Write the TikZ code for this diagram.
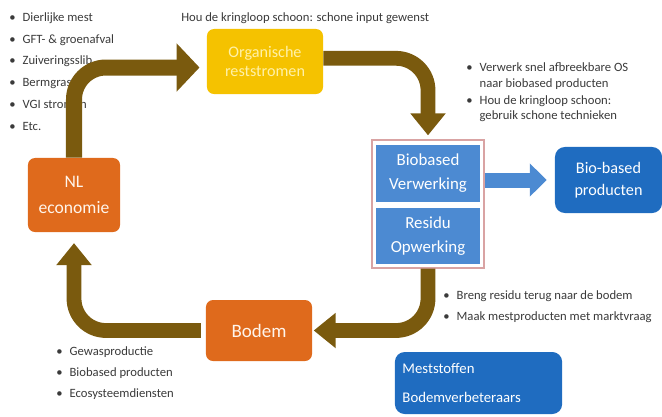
\documentclass[tikz,border=0pt]{standalone}
\usepackage{fontspec}
\setmainfont{Carlito}
\usepackage{xcolor}
\usetikzlibrary{positioning,arrows.meta}

\definecolor{loopbrown}{HTML}{7A5A0E}
\definecolor{orgyellow}{HTML}{F5C200}
\definecolor{orgtext}{HTML}{FFF1A8}
\definecolor{econorange}{HTML}{DF6A1C}
\definecolor{procblue}{HTML}{4C8AD2}
\definecolor{prodblue}{HTML}{1F6CC0}
\definecolor{framepink}{HTML}{D9A3A3}
\definecolor{notegray}{HTML}{3A3A3A}

\begin{document}
\begin{tikzpicture}[x=0.025cm, y=-0.025cm,
      box/.style={rounded corners=5pt, align=center, text=white, inner sep=2pt},
      yellowbox/.style={box, fill=orgyellow, text=orgtext, minimum width=2.9cm, minimum height=1.625cm, font=\fontsize{11.5}{14}\selectfont},
      orangebox/.style={box, fill=econorange, text=white!92!orange, font=\fontsize{12.5}{19}\selectfont},
      procbox/.style={fill=procblue, align=center, text=white, minimum width=2.6cm, minimum height=1.41cm, font=\fontsize{12}{17}\selectfont},
      prodbox/.style={box, fill=prodblue, rounded corners=7pt, font=\fontsize{11.5}{15.5}\selectfont},
      frame/.style={draw=framepink, line width=0.9pt, fill=white, minimum width=2.8cm, minimum height=3.2cm},
      note/.style={align=left, text=notegray, inner sep=0pt, anchor=north west},
      flow/.style={draw=loopbrown, line width=0.37cm, rounded corners=0.8cm, -{Triangle[width=0.85cm,length=0.55cm]}},
      bigflow/.style={flow, line width=0.4cm, -{Triangle[width=1.17cm,length=0.57cm]}},
      blueflow/.style={draw=procblue, line width=0.375cm, -{Triangle[width=0.8cm,length=0.42cm]}}
    ]
    \useasboundingbox (0,0) rectangle (662,416);

    % boxes of the loop
    \node[yellowbox] (org) at (265,61.5) {Organische\\reststromen};
    \node[frame] (frame) at (428,204) {};
    \node[procbox] (verw) at (428,173.5) {Biobased\\Verwerking};
    \node[procbox] (resid) at (428,236) {Residu\\Opwerking};
    \node[prodbox, minimum width=2.675cm, minimum height=1.65cm] (prod) at (608.5,180) {Bio-based\\producten};
    \node[orangebox, minimum width=2.3cm, minimum height=1.85cm] (nl) at (74,195) {NL\\economie};
    \node[orangebox, minimum width=2.65cm, minimum height=1.525cm, font=\fontsize{13.5}{16}\selectfont] (bodem) at (259,330.5) {Bodem};
    \node[prodbox, align=left, text width=3.8cm, inner xsep=0.19cm, minimum height=1.55cm, font=\fontsize{10.5}{20}\selectfont] (mest) at (478.5,383) {Meststoffen\\Bodemverbeteraars};

    % bullet texts
    \node[note, font=\fontsize{9}{15.6}\selectfont] (inputs) at (9,12) {%
      \textbullet\hspace{5pt}Dierlijke mest\\
      \textbullet\hspace{5pt}GFT- \& groenafval\\
      \textbullet\hspace{5pt}Zuiveringsslib\\
      \textbullet\hspace{5pt}Bermgras\\
      \textbullet\hspace{5pt}VGI stromen\\
      \textbullet\hspace{5pt}Etc.};
    \node[note, anchor=west, font=\fontsize{9}{11}\selectfont] (clean) at (181,18) {Hou de kringloop schoon: schone input gewenst};
    \node[note, font=\fontsize{9}{10.8}\selectfont] (procnotes) at (466,61) {%
      \begin{tabular}{@{}l@{\hspace{5pt}}l@{}}
        \textbullet & Verwerk snel afbreekbare OS\\
                    & naar biobased producten\\[1.5pt]
        \textbullet & Hou de kringloop schoon:\\
                    & gebruik schone technieken
      \end{tabular}};
    \node[note, font=\fontsize{9}{15.2}\selectfont] (residnotes) at (443,290) {%
      \textbullet\hspace{5pt}Breng residu terug naar de bodem\\
      \textbullet\hspace{5pt}Maak mestproducten met marktvraag};
    \node[note, font=\fontsize{9}{15.2}\selectfont] (soilnotes) at (56,346) {%
      \textbullet\hspace{5pt}Gewasproductie\\
      \textbullet\hspace{5pt}Biobased producten\\
      \textbullet\hspace{5pt}Ecosysteemdiensten};

    % the loop
    \draw[bigflow, shorten >=0.18cm] (nl.north) |- ([yshift=-0.15cm]org.west);
    \draw[flow, shorten >=0.1cm] ([yshift=0.08cm]org.east) -| (frame.north);
    \draw[flow, shorten >=1pt] (frame.south) |- (bodem.east);
    \draw[flow, shorten >=0.27cm] ([xshift=-0.12cm]bodem.west) -| (nl.south);
    \draw[blueflow, shorten >=0.2cm] (frame.east |- prod.west) -- (prod.west);
  \end{tikzpicture}
\end{document}
